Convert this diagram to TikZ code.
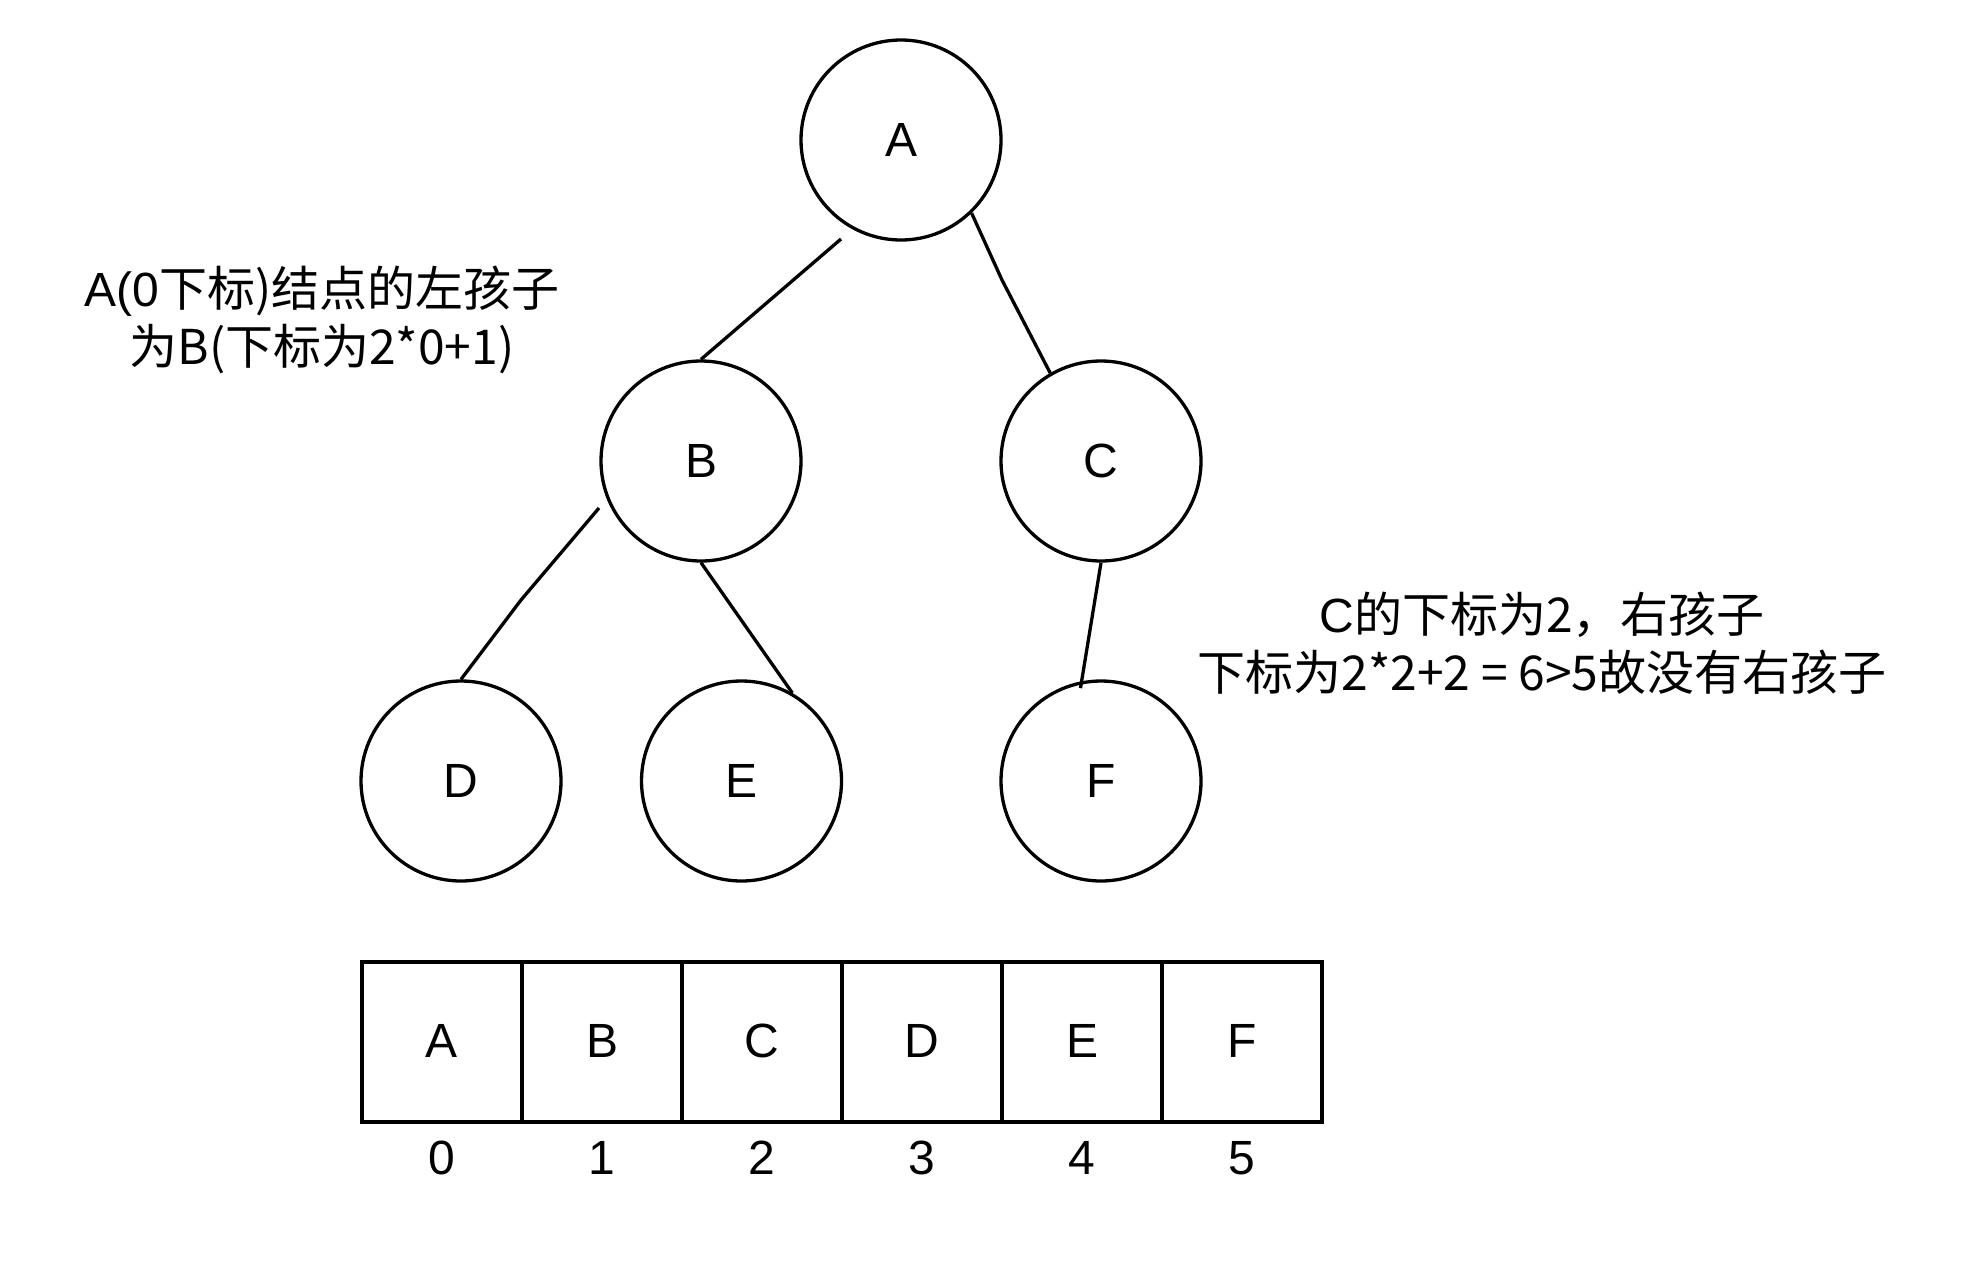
\documentclass[tikz,border=0pt]{standalone}
\usepackage{fontspec}
\setmainfont{Liberation Sans}
\newfontfamily\cjk{Noto Sans CJK SC}
\begin{document}
\begin{tikzpicture}[x=0.5pt,y=-0.5pt,
  every node/.style={font=\fontsize{24pt}{29pt}\selectfont},
  treenode/.style={circle,draw,line width=1.65pt,minimum size=100pt,inner sep=0pt},
  cell/.style={rectangle,draw,line width=2pt,minimum width=80pt,minimum height=80pt,inner sep=0pt},
  edge/.style={line width=1.65pt},
  note/.style={align=center,inner sep=0pt}]
\useasboundingbox (0,0) rectangle (1984,1264);
% tree
\node[treenode] (A) at (901,140) {A};
\node[treenode] (B) at (701,461) {B};
\node[treenode] (C) at (1101,461) {C};
\node[treenode] (D) at (461,781) {D};
\node[treenode] (E) at (741.5,781) {E};
\node[treenode] (F) at (1101,781) {F};
% connectors
\coordinate (ab) at (841,239);
\coordinate (bd) at (599,508);
\draw[edge] (ab) -- (B.north);
\draw[edge] (A.314.6) -- (1002,280) -- (C.120);
\draw[edge] (bd) -- (521,600) -- (D.north);
\draw[edge] (B.south) -- (E.60);
\draw[edge,shorten >=-3.5pt] (C.south) -- (F.101);
% notes
\node[note] (n1) at (322,320) {A(0\cjk{下标})\cjk{结点的左孩子}\\\cjk{为}B(\cjk{下标为}2*0+1)};
\node[note] (n2) at (1542,643) {C\cjk{的下标为}2\cjk{，右孩子}\\\cjk{下标为}2*2+2 = 6>5\cjk{故没有右孩子}};
% array
\foreach \l [count=\i from 0] in {A,B,C,D,E,F} {
  \node[cell] (c\i) at (442+160*\i,1042) {\raisebox{1.5pt}{\l}};
  \node[inner sep=0pt] (i\i) at (442+160*\i,1158) {\i};
}
\end{tikzpicture}
\end{document}
